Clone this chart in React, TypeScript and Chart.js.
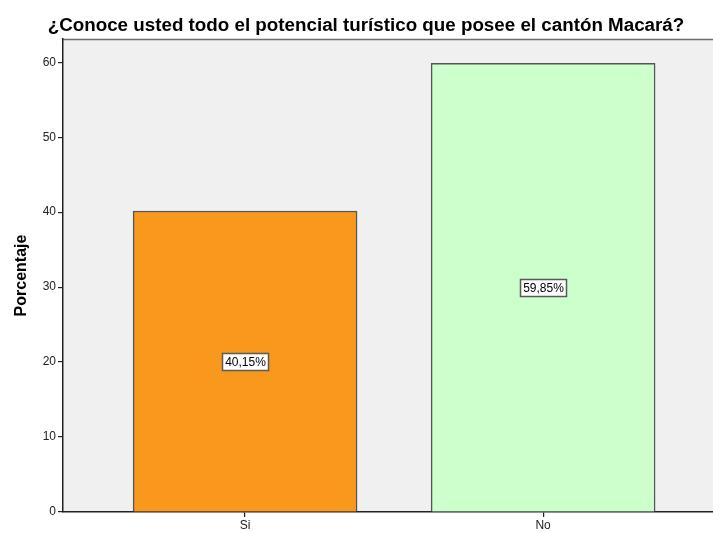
import React, { useEffect, useRef } from "react";
import { Chart, registerables } from "chart.js";

Chart.register(...registerables);

const titleText = "¿Conoce usted todo el potencial turístico que posee el cantón Macará?";
const categories = ["Si", "No"];
const categoryPositions = [1, 2];
const percentages = [40.15, 59.85];
const valueLabels = ["40,15%", "59,85%"];
const barColors = ["#F8981D", "#CCFFCC"];
const yTicks = [0, 10, 20, 30, 40, 50, 60];
const yTitle = "Porcentaje";

const FONT = "Arial, 'Liberation Sans', sans-serif";

const bgPlugin = {
  id: "bgPlugin",
  beforeDraw(chart: any) {
    const { ctx, chartArea } = chart;
    ctx.save();
    ctx.fillStyle = "#F0F0F0";
    ctx.fillRect(chartArea.left, chartArea.top, chartArea.right - chartArea.left, chartArea.bottom - chartArea.top);
    ctx.strokeStyle = "#6e6e6e";
    ctx.lineWidth = 1.5;
    ctx.beginPath();
    ctx.moveTo(chartArea.left, chartArea.top + 0.5);
    ctx.lineTo(chartArea.right, chartArea.top + 0.5);
    ctx.stroke();
    ctx.fillStyle = "#000";
    ctx.font = "bold 18.8px " + FONT;
    ctx.textAlign = "center";
    ctx.textBaseline = "alphabetic";
    ctx.fillText(titleText, 366, 31);
    ctx.restore();
  },
};

const labelPlugin = {
  id: "labelPlugin",
  afterDatasetsDraw(chart: any) {
    const { ctx } = chart;
    const meta = chart.getDatasetMeta(0);
    ctx.save();
    ctx.font = "12px " + FONT;
    ctx.textAlign = "center";
    ctx.textBaseline = "middle";
    meta.data.forEach((el: any, i: number) => {
      const cx = Math.round(el.x);
      const cy = Math.round((el.y + el.base) / 2);
      const t = valueLabels[i];
      const w = Math.ceil(ctx.measureText(t).width) + 5;
      const h = 17;
      const x0 = Math.round(cx - w / 2);
      const y0 = Math.round(cy - h / 2);
      ctx.fillStyle = "#fff";
      ctx.fillRect(x0, y0, w, h);
      ctx.strokeStyle = "#5a5a5a";
      ctx.lineWidth = 1.5;
      ctx.strokeRect(x0 + 0.5, y0 + 0.5, w, h);
      ctx.fillStyle = "#000";
      ctx.fillText(t, cx + 0.5, cy + 1.5);
    });
    ctx.restore();
  },
};

export default function App() {
  const ref = useRef<HTMLCanvasElement>(null);
  useEffect(() => {
    if (!ref.current) return;
    const chart = new Chart(ref.current, {
      type: "bar",
      data: {
        datasets: [
          {
            data: categoryPositions.map((x, i) => ({ x, y: percentages[i] })),
            backgroundColor: barColors,
            borderColor: "#555555",
            borderWidth: 1.5,
            barThickness: 224,
          },
        ],
      },
      options: {
        animation: false,
        responsive: false,
        maintainAspectRatio: false,
        layout: { padding: { top: 39, left: 0, right: 0, bottom: 0 } },
        plugins: { legend: { display: false }, tooltip: { enabled: false }, title: { display: false } },
        scales: {
          x: {
            type: "linear",
            offset: false,
            min: 0.389,
            max: 2.57,
            afterBuildTicks(scale: any) {
              scale.ticks = categoryPositions.map((v) => ({ value: v }));
            },
            afterFit(scale: any) {
              scale.height = 21;
            },
            grid: { offset: false, drawOnChartArea: false, drawTicks: true, tickLength: 5, color: "#222", lineWidth: 1.2 },
            border: { display: true, color: "#222", width: 1.5 },
            ticks: {
              autoSkip: false,
              maxRotation: 0,
              padding: 1,
              color: "#222",
              font: { family: FONT, size: 12 },
              callback: (v: any) => {
                const i = categoryPositions.indexOf(Number(v));
                return i >= 0 ? categories[i] : "";
              },
            },
          },
          y: {
            min: 0,
            max: 63.1,
            afterBuildTicks(scale: any) {
              scale.ticks = yTicks.map((v) => ({ value: v }));
            },
            afterFit(scale: any) {
              scale.width = 63;
            },
            grid: { drawOnChartArea: false, drawTicks: true, tickLength: 5, color: "#222", lineWidth: 1.2 },
            border: { display: true, color: "#222", width: 1.5 },
            title: {
              display: true,
              text: yTitle,
              color: "#000",
              font: { family: FONT, size: 16, weight: "bold" },
              padding: { top: 12, bottom: 0 },
            },
            ticks: {
              padding: 2,
              color: "#222",
              font: { family: FONT, size: 12 },
            },
          },
        },
      },
      plugins: [bgPlugin, labelPlugin],
    } as any);
    return () => chart.destroy();
  }, []);
  return (
    <div style={{ position: "absolute", left: 0, top: 0, width: 713, height: 533, background: "#fff" }}>
      <canvas ref={ref} width={713} height={533} style={{ display: "block" }} />
    </div>
  );
}
